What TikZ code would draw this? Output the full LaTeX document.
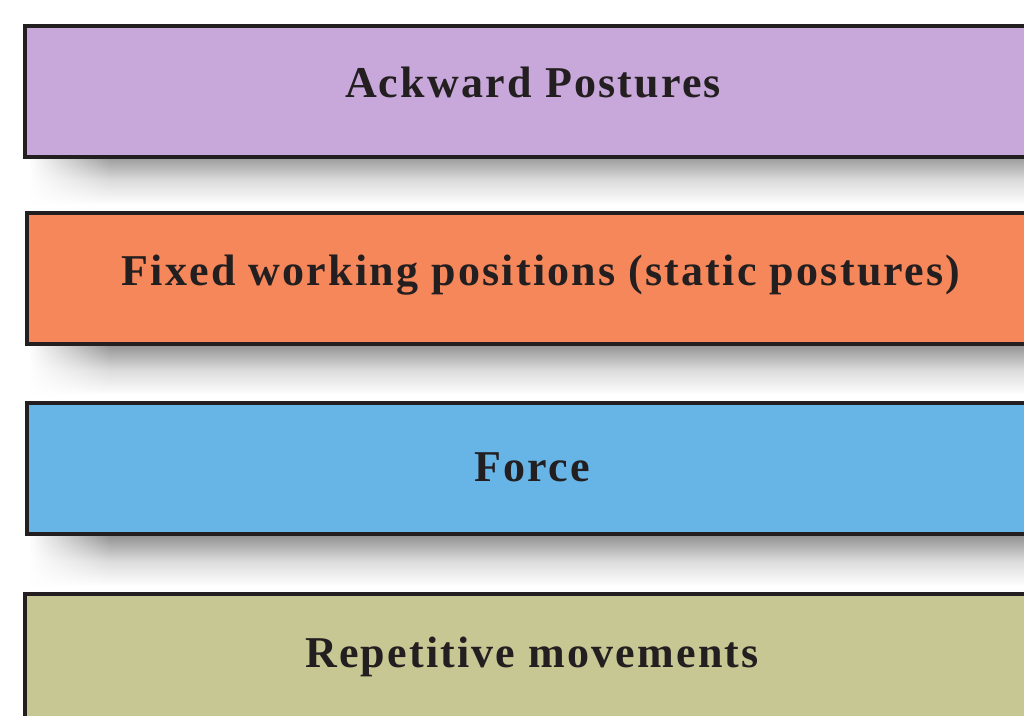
\documentclass[tikz,border=0pt]{standalone}
\usepackage{fontspec}
\setmainfont{Liberation Serif}[LetterSpace=5]
\usetikzlibrary{fadings}
\definecolor{cPurple}{HTML}{C8A8DA}
\definecolor{cOrange}{HTML}{F5875A}
\definecolor{cBlue}{HTML}{66B5E6}
\definecolor{cOlive}{HTML}{C7C794}
\definecolor{cEdge}{HTML}{231F20}
\tikzfading[name=leftfade, left color=transparent!0, right color=transparent!100]
\begin{document}
\begin{tikzpicture}[x=1pt,y=1pt,
  bar/.style={draw=cEdge, line width=4pt, rectangle, inner sep=0pt,
    minimum width=1050pt, minimum height=131pt, anchor=north west},
  barlabel/.style={font=\fontsize{44}{50}\selectfont\bfseries, text=cEdge, inner sep=0pt},
  shadowband/.style={top color=black!42, bottom color=white, middle color=black!14}]
\useasboundingbox (0,0) rectangle (1024,715);
\clip (0,0) rectangle (1024,715);
\fill[white] (0,0) rectangle (1024,715);
% shadows
\foreach \yb in {560, 370, 179} {
  \shade[shadowband] (30,\yb) rectangle (1024,\yb-50);
  \fill[white, path fading=leftfade] (29,\yb+1) rectangle (110,\yb-51);
}
\node[bar, fill=cPurple] (b1) at (23,691) {};
\node[bar, fill=cOrange] (b2) at (25,504) {};
\node[bar, fill=cBlue] (b3) at (25,314) {};
\node[bar, fill=cOlive] (b4) at (23,123) {};
\node[barlabel] (t1) at (533,632) {Ackward Postures};
\node[barlabel] (t2) at (541,440) {Fixed working positions (static postures)};
\node[barlabel] (t3) at (532,248) {Force};
\node[barlabel] (t4) at (532,58) {Repetitive movements};
\end{tikzpicture}
\end{document}
